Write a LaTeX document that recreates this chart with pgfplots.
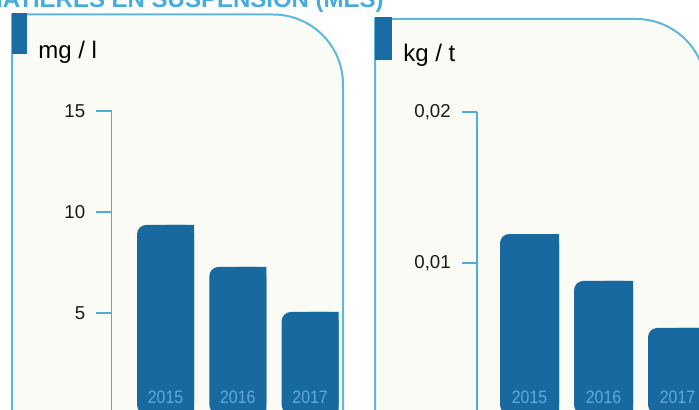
\documentclass[border=0pt]{standalone}
\usepackage{fontspec}
\setmainfont{Liberation Sans}
\newfontfamily\cond{Liberation Sans}[FakeStretch=0.88]
\usepackage{pgfplots}
\pgfplotsset{compat=1.18}
\definecolor{barblue}{HTML}{17699F}
\definecolor{tabblue}{HTML}{1A6DA4}
\definecolor{frameblue}{HTML}{5DB8DC}
\definecolor{axisblue}{HTML}{4AAED6}
\definecolor{yearblue}{HTML}{62AADE}
\definecolor{titleblue}{HTML}{45ACDE}
\definecolor{panelbg}{HTML}{FBFBF5}
\pgfplotsset{
  panel/.style={
    scale only axis, anchor=south west,
    axis on top,
    axis lines=left,
    x axis line style={draw=none},
    y axis line style={-, draw=axisblue, line width=1.2pt},
    ybar, enlargelimits=false, clip=true,
    ymin=0,
    xtick=data, xtick style={draw=none}, xtick align=inside,
    xticklabel style={anchor=base, inner sep=0pt, yshift=8.25pt, text=yearblue, font=\cond\fontsize{13.5}{14}\selectfont},
    ytick align=outside, major tick length=11.25pt,
    ytick style={draw=axisblue, line width=1.1pt},
    yticklabel style={inner sep=0pt, xshift=-8.25pt, font=\fontsize{14}{15}\selectfont, text=black!90},
    /pgf/number format/assume math mode=true,
    scaled y ticks=false,
  }
}
\begin{document}
\begin{tikzpicture}[x=0.75pt,y=0.75pt]
\path[use as bounding box, clip] (0,0) rectangle (699,410);
\fill[white] (0,0) rectangle (699,410);
% title (cut off at top, as in the reference)
\node[anchor=base east, inner sep=0pt, text=titleblue, font=\bfseries\fontsize{18}{20}\selectfont] at (384,402) {MATIÈRES EN SUSPENSION (MES)};
% left panel
\fill[panelbg] (12,-5) |- (273,395.5) arc[start angle=90, end angle=0, radius=70] -- (343,-5) -- cycle;
\draw[frameblue, line width=1.5pt] (12,-5) |- (273,395.5) arc[start angle=90, end angle=0, radius=70] -- (343,-5);
\fill[tabblue] (11.5,356) rectangle (27,397);
\node[anchor=base west, inner sep=0pt, font=\fontsize{18}{20}\selectfont] at (38,351) {mg / l};
% right panel
\fill[panelbg] (375,-5) |- (636,391) arc[start angle=90, end angle=0, radius=70] -- (706,-5) -- cycle;
\draw[frameblue, line width=1.5pt] (375,-5) |- (636,391) arc[start angle=90, end angle=0, radius=70] -- (706,-5);
\fill[tabblue] (374.5,350) rectangle (392,392.5);
\node[anchor=base west, inner sep=0pt, font=\fontsize{18}{20}\selectfont] at (403,348) {kg / t};
% left chart
\begin{axis}[panel,
  at={(83.625pt,-3pt)}, width=173.625pt, height=227.25pt,
  xmin=-0.747, xmax=2.455, ymax=15,
  xticklabels={2015,2016,2017},
  ytick={5,10,15},
  bar width=42.75pt]
\addplot[fill=barblue, draw=none, rounded corners=7pt, bar shift=0pt] coordinates {(0,9.36) (1,7.28) (2,5.05)};
\addplot[fill=barblue, draw=none, bar width=21.375pt, bar shift=10.6875pt] coordinates {(0,9.36) (1,7.28) (2,5.05)};
\end{axis}
% right chart
\begin{axis}[panel,
  at={(357.75pt,-3pt)}, width=171.75pt, height=226.5pt,
  xmin=-0.7095, xmax=2.385, ymax=0.02,
  xticklabels={2015,2016,2017},
  ytick={0.01,0.02}, yticklabels={{0,01},{0,02}},
  bar width=44.25pt]
\addplot[fill=barblue, draw=none, rounded corners=7pt, bar shift=0pt] coordinates {(0,0.01192) (1,0.00881) (2,0.0057)};
\addplot[fill=barblue, draw=none, bar width=22.125pt, bar shift=11.0625pt] coordinates {(0,0.01192) (1,0.00881) (2,0.0057)};
\end{axis}
\end{tikzpicture}
\end{document}
